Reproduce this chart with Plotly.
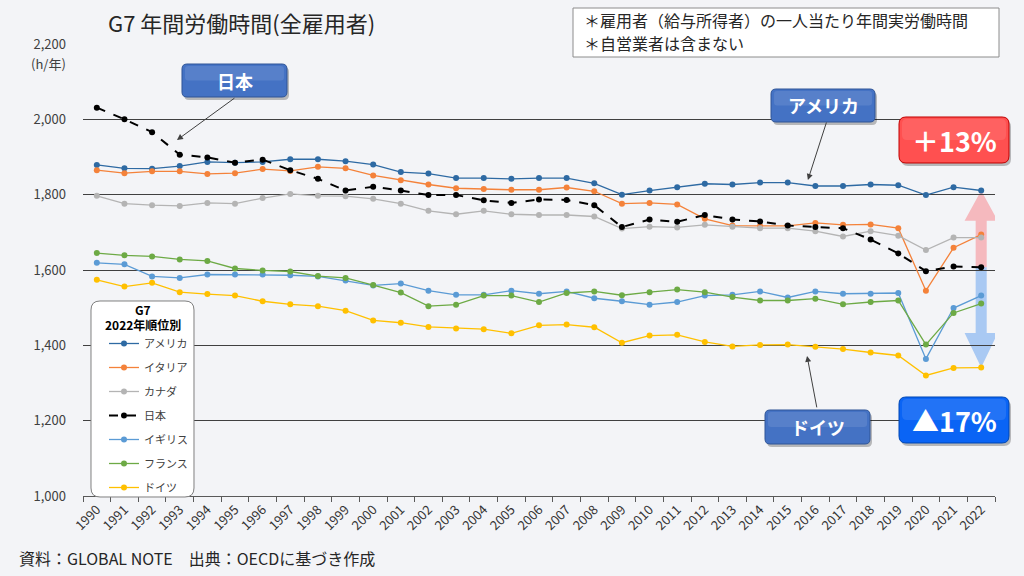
import plotly.graph_objects as go

years = [str(y) for y in range(1990, 2023)]

usa = [1879, 1870, 1869, 1876, 1887, 1885, 1887, 1894, 1894, 1889, 1880,
       1860, 1856, 1844, 1844, 1842, 1844, 1844, 1830, 1800, 1811, 1820,
       1829, 1827, 1832, 1832, 1823, 1823, 1827, 1825, 1799, 1820, 1811]
italy = [1865, 1857, 1862, 1862, 1855, 1857, 1868, 1863, 1874, 1870, 1851,
         1838, 1827, 1817, 1815, 1813, 1813, 1819, 1809, 1776, 1778, 1774,
         1736, 1718, 1717, 1717, 1725, 1720, 1721, 1711, 1545, 1659, 1694]
canada = [1797, 1776, 1772, 1770, 1778, 1776, 1791, 1802, 1797, 1796, 1789,
          1776, 1757, 1748, 1757, 1748, 1746, 1746, 1742, 1710, 1715, 1713,
          1720, 1715, 1711, 1711, 1703, 1689, 1703, 1691, 1653, 1686, 1686]
japan = [2031, 2000, 1966, 1906, 1899, 1885, 1893, 1865, 1842, 1811, 1821,
         1811, 1799, 1799, 1785, 1778, 1787, 1786, 1772, 1714, 1734, 1728,
         1746, 1734, 1729, 1718, 1714, 1711, 1681, 1644, 1597, 1609, 1607]
uk = [1619, 1615, 1583, 1579, 1588, 1588, 1588, 1586, 1583, 1572, 1559,
      1564, 1545, 1534, 1534, 1545, 1537, 1543, 1525, 1517, 1508, 1515,
      1532, 1534, 1543, 1527, 1543, 1537, 1537, 1539, 1364, 1499, 1532]
france = [1645, 1639, 1636, 1628, 1624, 1604, 1599, 1596, 1584, 1579, 1560,
          1540, 1504, 1508, 1532, 1532, 1515, 1539, 1543, 1533, 1541, 1548,
          1541, 1528, 1519, 1519, 1524, 1509, 1515, 1519, 1402, 1486, 1511]
germany = [1574, 1556, 1566, 1541, 1536, 1532, 1517, 1509, 1504, 1492, 1466,
           1460, 1449, 1445, 1443, 1432, 1453, 1455, 1448, 1407, 1426, 1428,
           1409, 1397, 1401, 1402, 1396, 1390, 1381, 1373, 1320, 1340, 1341]

series = [
    ("アメリカ", usa, "#2E6AA3", "solid", 1.3),
    ("イタリア", italy, "#F4823A", "solid", 1.3),
    ("カナダ", canada, "#B4B4B4", "solid", 1.3),
    ("日本", japan, "#000000", "dash", 2),
    ("イギリス", uk, "#5B9BD5", "solid", 1.3),
    ("フランス", france, "#6DAA45", "solid", 1.3),
    ("ドイツ", germany, "#FFC000", "solid", 1.3),
]

FONT = "Noto Sans CJK JP"
BG = "#F3F4F7"

# plot area in pixels
L, R, T, B = 83, 995, 44, 496
W, H = R - L, B - T


def px(x):
    return (x - L) / W


def py(y):
    return (B - y) / H


def rounded(x0, y0, x1, y1, r):
    pts = [
        ("M", x0 + r, y0), ("L", x1 - r, y0), ("Q", x1, y0, x1, y0 + r),
        ("L", x1, y1 - r), ("Q", x1, y1, x1 - r, y1), ("L", x0 + r, y1),
        ("Q", x0, y1, x0, y1 - r), ("L", x0, y0 + r), ("Q", x0, y0, x0 + r, y0),
    ]
    out = []
    for p in pts:
        if p[0] == "Q":
            out.append("Q %.5f,%.5f %.5f,%.5f" % (px(p[1]), py(p[2]), px(p[3]), py(p[4])))
        else:
            out.append("%s %.5f,%.5f" % (p[0], px(p[1]), py(p[2])))
    return " ".join(out) + " Z"


def label(x, y, text, size, color, xanchor="center", bold=False):
    if bold:
        text = "<b>%s</b>" % text
    return dict(xref="paper", yref="paper", x=px(x), y=py(y), text=text,
                xanchor=xanchor, yanchor="middle", showarrow=False,
                font=dict(size=size, color=color))


fig = go.Figure()

for i, (name, vals, color, dash, lw) in enumerate(series):
    fig.add_trace(go.Scatter(
        x=years, y=vals, name=name, mode="lines+markers",
        line=dict(color=color, width=lw, dash=dash),
        marker=dict(color=color, size=6),
        legendgroup=str(i),
    ))

shapes = []
annotations = []

# arrows at 2022: Japan -> USA (pink) and Japan -> Germany (blue)
xi = len(years) - 1
sw, hw, hl = 0.2, 0.6, 80
base, top, bot = japan[-1], usa[-1], germany[-1]
shapes.append(dict(
    type="path", xref="x", yref="y", layer="below", line=dict(width=0),
    fillcolor="#F5B9BE",
    path="M %f,%f L %f,%f L %f,%f L %f,%f L %f,%f L %f,%f L %f,%f Z" % (
        xi - sw, base, xi - sw, top - hl, xi - hw, top - hl, xi, top,
        xi + hw, top - hl, xi + sw, top - hl, xi + sw, base)))
shapes.append(dict(
    type="path", xref="x", yref="y", layer="below", line=dict(width=0),
    fillcolor="#A9C9F3",
    path="M %f,%f L %f,%f L %f,%f L %f,%f L %f,%f L %f,%f L %f,%f Z" % (
        xi - sw, base, xi - sw, bot + hl + 12, xi - hw, bot + hl + 12, xi, bot,
        xi + hw, bot + hl + 12, xi + sw, bot + hl + 12, xi + sw, base)))

# legend frame and title
shapes.append(dict(type="path", xref="paper", yref="paper", layer="above",
                   path=rounded(91, 301, 194, 497, 9),
                   fillcolor="white", line=dict(color="#7F7F7F", width=1)))
annotations.append(label(142.5, 309, "G7", 12, "#000000", bold=True))
annotations.append(label(142.5, 324, "2022年順位別", 12, "#000000", bold=True))

# note box
shapes.append(dict(type="rect", xref="paper", yref="paper", layer="above",
                   x0=px(573), x1=px(999), y0=py(8), y1=py(57),
                   fillcolor="white", line=dict(color="#8C8C8C", width=1)))
annotations.append(label(582, 20, "＊雇用者（給与所得者）の一人当たり年間実労働時間",
                         16, "#262626", xanchor="left"))
annotations.append(label(582, 43, "＊自営業者は含まない", 16, "#262626", xanchor="left"))

# callout boxes
boxes = [
    ("日本", 182, 64, 287, 97, "#4472C4", "#2F5597", 18, 5),
    ("アメリカ", 771, 89, 875, 122, "#4472C4", "#2F5597", 18, 5),
    ("ドイツ", 765, 410, 870, 444, "#4472C4", "#2F5597", 18, 5),
    ("＋13%", 899, 117, 1009, 163, "#FF5050", "#C00000", 27, 7),
    ("▲17%", 899, 397, 1009, 443, "#0A64F5", "#0047B3", 27, 7),
]
for text, x0, y0, x1, y1, fill, edge, fs, r in boxes:
    shapes.append(dict(type="path", xref="paper", yref="paper", layer="above",
                       path=rounded(x0 + 2, y0 + 3, x1 + 2, y1 + 3, r),
                       fillcolor="rgba(0,0,0,0.25)", line=dict(width=0)))
    shapes.append(dict(type="path", xref="paper", yref="paper", layer="above",
                       path=rounded(x0, y0, x1, y1, r),
                       fillcolor=fill, line=dict(color=edge, width=1)))
    shapes.append(dict(type="path", xref="paper", yref="paper", layer="above",
                       path=rounded(x0 + 3, y0 + 2, x1 - 3, (y0 + y1) / 2, r - 2),
                       fillcolor="rgba(255,255,255,0.1)", line=dict(width=0)))
    annotations.append(label((x0 + x1) / 2, (y0 + y1) / 2, text, fs, "white", bold=True))

# leader arrows
for x, y, ax, ay in [(2.9, 1945, 59, -43), (25.73, 1839, 19, -59), (25.7, 1372, 10, 53)]:
    annotations.append(dict(x=x, y=y, xref="x", yref="y", ax=ax, ay=ay, text="",
                            showarrow=True, arrowhead=2, arrowsize=1.2,
                            arrowwidth=1, arrowcolor="#404040"))

annotations.append(label(48, 64, "(h/年)", 13, "#404040"))
annotations.append(label(17, 558, "資料：GLOBAL NOTE　出典：OECDに基づき作成",
                         16, "#262626", xanchor="left"))

fig.update_layout(
    width=1024, height=576,
    margin=dict(l=L, r=1024 - R, t=T, b=576 - B),
    paper_bgcolor=BG, plot_bgcolor=BG,
    font=dict(family=FONT, color="#404040"),
    title=dict(text="G7 年間労働時間(全雇用者)", xref="paper", x=px(108),
               xanchor="left", yref="container", y=1 - 24 / 576,
               yanchor="middle", font=dict(size=22, color="#262626")),
    showlegend=True,
    legend=dict(x=px(104), y=py(329), xanchor="left", yanchor="top",
                bgcolor="rgba(0,0,0,0)", borderwidth=0,
                font=dict(size=11, color="#404040"),
                tracegroupgap=5, itemwidth=30),
    shapes=shapes,
    annotations=annotations,
)

fig.update_xaxes(
    type="category", tickson="boundaries", ticks="outside", ticklen=5,
    tickcolor="#595959", showline=True, linecolor="#595959", linewidth=1,
    showgrid=False, tickangle=-45, tickfont=dict(size=13, color="#333333"),
    range=[-0.5, len(years) - 0.5],
)
fig.update_yaxes(
    range=[1000, 2200], dtick=200, tickformat=",", showgrid=True,
    gridcolor="#404040", gridwidth=1, zeroline=False, showline=False,
    ticks="", tickfont=dict(size=13, color="#404040"), ticklabelstandoff=16,
)

fig.write_html(
    "out.html",
    config={"displayModeBar": False},
    post_script="document.body.style.margin='0';"
                "document.body.style.background='%s';" % BG,
)
